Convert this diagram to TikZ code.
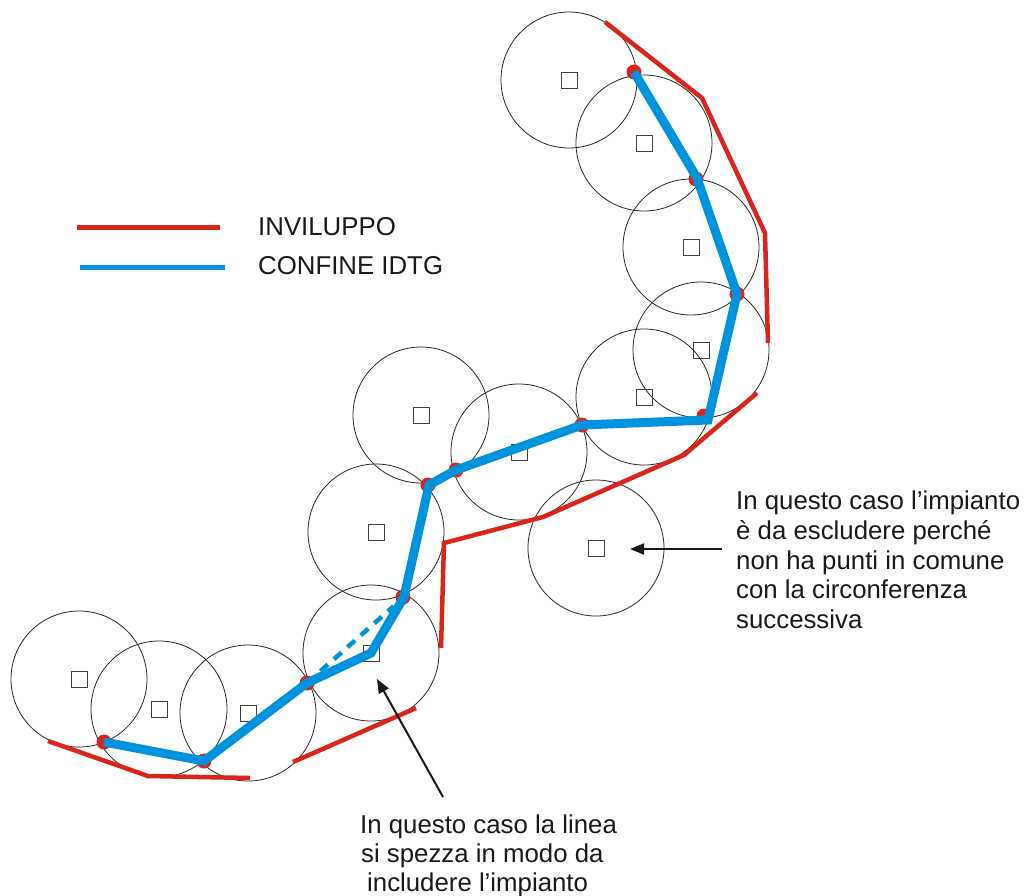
\documentclass[tikz,border=0pt]{standalone}
\usepackage{fontspec}
\setmainfont{Liberation Sans}
\usetikzlibrary{arrows.meta}
\definecolor{envred}{HTML}{DA251D}
\definecolor{idblue}{HTML}{0093DD}
\begin{document}
\begin{tikzpicture}[x=1pt,y=-1pt,
 site/.style={circle,draw=black!85,line width=0.8pt,minimum size=136pt,inner sep=0},
 plant/.style={rectangle,draw=black!75,line width=1pt,minimum size=16pt,inner sep=0},
 vtx/.style={circle,fill=envred,minimum size=15pt,inner sep=0},
 env/.style={draw=envred,line width=4.5pt,line join=miter},
 conf/.style={draw=idblue,line width=9pt,line join=miter},
 lbl/.style={font=\fontsize{25.8}{30}\selectfont,anchor=base west,inner sep=0,text=black!90},
 note/.style={-{Triangle[length=14pt,width=11pt]},line width=2pt,draw=black!90}]
\useasboundingbox (0,0) rectangle (1026,895);
% circles and plants
\foreach \n/\x/\y in {1/569/80,2/644/143,3/691/247,4/701/350,5/644/397,6/421/415,7/519/452,8/376/532,9/596/548,10/371/653,11/79/679,12/159/709,13/248/713}{
  \node[site] (c\n) at (\x,\y) {};
  \node[plant] (p\n) at (\x,\y) {};
}
% envelope
\draw[env] (48,741) -- (148,776) -- (250,778);
\draw[env] (293,762) -- (416,708);
\draw[env] (441,648) -- (444,543) -- (543,517) -- (684,455) -- (757,393);
\draw[env] (605,22) -- (702,98) -- (765,233) -- (768,343);
% vertices
\foreach \n/\x/\y in {1/104/742,2/204/761,3/307/683,5/404/597,6/429/485,7/456/470,8/582/425,9/708/420,10/737/294,11/697/178,12/634/72}{
  \coordinate (v\n) at (\x,\y);
}
\foreach \n/\x/\y in {1/104/742,2/204/761,3/307/683,5/403/597,6/428/485,7/456/470,8/582/425,9/704/416,10/737/294,11/696/179,12/634/72}{
  \node[vtx] (d\n) at (\x,\y) {};
}
% confine
\draw[conf] (v1) -- (v2) -- (v3) -- (p10.center) -- (v5) -- (v6) -- (v7) -- (v8) -- (v9) -- (v10) -- (v11) -- (v12);
\draw[draw=idblue,line width=4.5pt,dash pattern=on 10pt off 8pt,shorten <=18pt,shorten >=14pt] (v3) -- (v5);
% legend
\coordinate (lr1) at (77,227); \coordinate (lr2) at (220,227);
\coordinate (lb1) at (80,267); \coordinate (lb2) at (225,267);
\draw[draw=envred,line width=5pt] (lr1) -- (lr2);
\draw[draw=idblue,line width=5pt] (lb1) -- (lb2);
\node[lbl] (t1) at (258,235) {INVILUPPO};
\node[lbl] (t2) at (258,274) {CONFINE IDTG};
% right note
\node[lbl] (r1) at (736,509) {In questo caso l’impianto};
\node[lbl] (r2) at (736,539) {è da escludere perché};
\node[lbl] (r3) at (736,569) {non ha punti in comune};
\node[lbl] (r4) at (736,598) {con la circonferenza};
\node[lbl] (r5) at (736,628) {successiva};
\coordinate (a1s) at (722,549); \coordinate (a1e) at (630,549);
\draw[note] (a1s) -- (a1e);
% bottom note
\node[lbl] (b1) at (360,833) {In questo caso la linea};
\node[lbl] (b2) at (361,862) {si spezza in modo da};
\node[lbl] (b3) at (367,891) {includere l’impianto};
\coordinate (a2s) at (443,797); \coordinate (a2e) at (377,679);
\draw[note] (a2s) -- (a2e);
\end{tikzpicture}
\end{document}
